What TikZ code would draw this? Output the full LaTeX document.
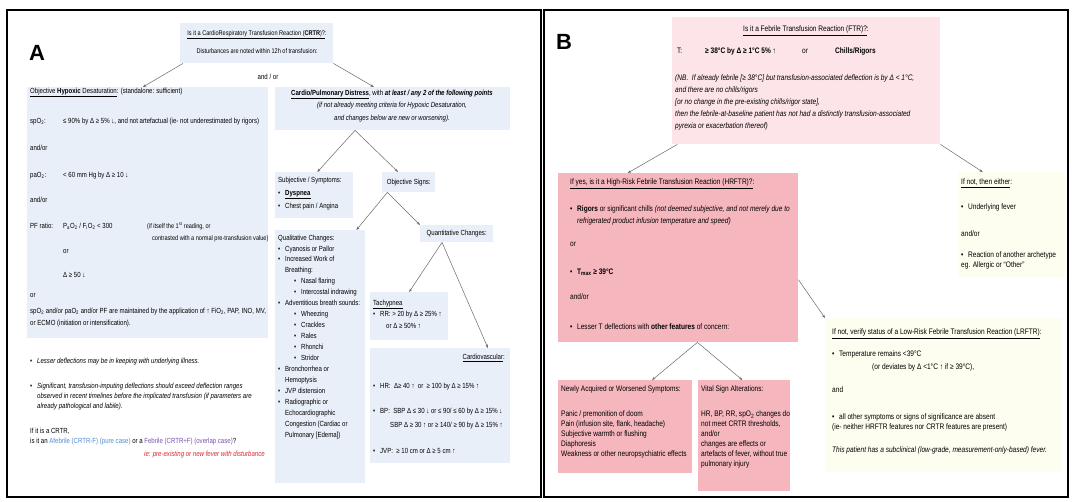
\documentclass[tikz,border=0pt]{standalone}
\usepackage{fontspec}
\setmainfont[FakeStretch=0.82]{Liberation Sans}
\newfontfamily\panelfont{Liberation Sans}
\usetikzlibrary{arrows.meta,calc}

\definecolor{boxblue}{RGB}{233,239,248}
\definecolor{lightpink}{RGB}{252,228,232}
\definecolor{rosepink}{RGB}{245,182,190}
\definecolor{cream}{RGB}{253,253,240}
\definecolor{arrowgray}{RGB}{105,105,105}
\definecolor{afebblue}{RGB}{80,140,210}
\definecolor{febpurple}{RGB}{125,80,175}
\definecolor{notered}{RGB}{220,40,50}

\newcommand{\bl}{\makebox[7pt][l]{\textbullet}}

\begin{document}
\begin{tikzpicture}
  [x=1pt,y=-1pt,every node/.style={inner sep=0pt},
   atxt/.style={font=\fontsize{7.4}{#1}\selectfont},atxt/.default=10,
   btxt/.style={font=\fontsize{8}{#1}\selectfont},btxt/.default=10,
   txt/.style={anchor=north west,align=left},
   panel/.style={font=\panelfont\bfseries\fontsize{22}{22}\selectfont},
   bluebox/.style={fill=boxblue,anchor=north west},
   pinkbox/.style={fill=lightpink,anchor=north west},
   rosebox/.style={fill=rosepink,anchor=north west},
   creambox/.style={fill=cream,anchor=north west},
   conn/.style={draw=arrowgray,line width=0.5pt,-{Stealth[length=3.5pt,width=2.6pt]}}]
  \fill[white] (0,0) rectangle (1072,502);
  \useasboundingbox (0,0) rectangle (1072,502);

  % panel A
  \node[panel] (labA) at (37,53) {A};
  \node[bluebox,minimum width=153pt,minimum height=40pt] (crtr) at (180,23) {};
  \node[font=\fontsize{6.8}{10}\selectfont,anchor=north,align=center] (crtrtxt) at (257,30) {\underline{Is it a CardioRespiratory Transfusion Reaction (\textbf{CRTR})?}:\\[8pt]
    Disturbances are noted within 12h of transfusion:};
  \node[atxt] (andor) at (268,77) {and / or};

  \node[bluebox,minimum width=241pt,minimum height=251pt] (hyp) at (27,87) {};
  \node[txt,atxt=12] (hyptxt) at (30,87.5) {\underline{Objective \textbf{Hypoxic} Desaturation}: (standalone: sufficient)\\[18pt]
    \makebox[33pt][l]{spO\textsubscript{2}:}≤ 90\% by Δ ≥ 5\% ↓, and not artefactual (ie- not underestimated by rigors)\\[15pt]
    and/or\\[15pt]
    \makebox[33pt][l]{paO\textsubscript{2}:}< 60 mm Hg by Δ ≥ 10 ↓\\[13pt]
    and/or\\[14pt]
    \makebox[33pt][l]{PF ratio:}\makebox[84pt][l]{P\textsubscript{a}O\textsubscript{2} / F\textsubscript{i}O\textsubscript{2} < 300}{\fontsize{6.8}{10}\selectfont(if itself the 1\textsuperscript{st} reading, or}\\
    \hspace*{122pt}{\fontsize{6.8}{10}\selectfont contrasted with a normal pre-transfusion value)}\\[1pt]
    \hspace*{33pt}or\\[12pt]
    \hspace*{33pt}Δ ≥ 50 ↓\\[8pt]
    or\\[4pt]
    spO\textsubscript{2} and/or paO\textsubscript{2} and/or PF are maintained by the application of ↑ FiO\textsubscript{2}, PAP, INO, MV,\\
    or ECMO (initiation or intensification).};

  \node[txt,atxt] (notes) at (30,357.5) {\bl\textit{Lesser deflections may be in keeping with underlying illness.}\\[15pt]
    \bl\textit{Significant, transfusion-imputing deflections should exceed deflection ranges}\\
    \hspace*{7pt}\textit{observed in recent timelines before the implicated transfusion (if parameters are}\\
    \hspace*{7pt}\textit{already pathological and labile).}\\[15pt]
    If it is a CRTR,\\
    is it an \textcolor{afebblue}{Afebrile (CRTR-F) (pure case)} or a \textcolor{febpurple}{Febrile (CRTR+F) (overlap case)}?};
  \node[atxt,anchor=base east,text=notered] (ienote) at (265,457) {\textit{ie: pre-existing or new fever with disturbance}};

  \node[bluebox,minimum width=235pt,minimum height=43pt] (cpd) at (275,87) {};
  \node[atxt=12.5,anchor=north,align=center] (cpdtxt) at (392,89.5) {\underline{\textbf{Cardio/Pulmonary Distress}}, with \textbf{\textit{at least / any 2 of the following points}}\\
    \textit{(if not already meeting criteria for Hypoxic Desaturation,}\\
    \textit{and changes below are new or worsening).}};

  \node[bluebox,minimum width=78pt,minimum height=46pt] (subj) at (275,172) {};
  \node[txt,atxt=13] (subjtxt) at (278,176.5) {Subjective / Symptoms:\\
    \bl\underline{\textbf{Dyspnea}}\\
    \bl Chest pain / Angina};
  \node[bluebox,minimum width=53pt,minimum height=20pt] (objs) at (382,172) {};
  \node[atxt] (objstxt) at (objs.center) {Objective Signs:};

  \node[bluebox,minimum width=90pt,minimum height=253pt] (qual) at (275,230) {};
  \node[txt,atxt=10.95] (qualtxt) at (278,234.5) {Qualitative Changes:\\
    \bl Cyanosis or Pallor\\
    \bl Increased Work of\\
    \hspace*{7pt}Breathing:\\
    \hspace*{16pt}\bl Nasal flaring\\
    \hspace*{16pt}\bl Intercostal indrawing\\
    \bl Adventitious breath sounds:\\
    \hspace*{16pt}\bl Wheezing\\
    \hspace*{16pt}\bl Crackles\\
    \hspace*{16pt}\bl Rales\\
    \hspace*{16pt}\bl Rhonchi\\
    \hspace*{16pt}\bl Stridor\\
    \bl Bronchorrhea or\\
    \hspace*{7pt}Hemoptysis\\
    \bl JVP distension\\
    \bl Radiographic or\\
    \hspace*{7pt}Echocardiographic\\
    \hspace*{7pt}Congestion (Cardiac or\\
    \hspace*{7pt}Pulmonary [Edema])};

  \node[bluebox,minimum width=73pt,minimum height=17pt] (quant) at (420,225) {};
  \node[atxt] (quanttxt) at (quant.center) {Quantitative Changes:};

  \node[bluebox,minimum width=78pt,minimum height=48pt] (tachy) at (370,292) {};
  \node[txt,atxt=11.5] (tachytxt) at (373,299.5) {\underline{Tachypnea}\\
    \bl RR: > 20 by Δ ≥ 25\% ↑\\
    \hspace*{13pt}or Δ ≥ 50\% ↑};

  \node[bluebox,minimum width=140pt,minimum height=115pt] (cardio) at (370,348) {};
  \node[atxt,anchor=base east] (cardiohead) at (505,360) {\underline{Cardiovascular}:};
  \node[txt,atxt=14] (cardiotxt) at (373,382.5) {\bl HR: \ Δ≥ 40 ↑ \ or \ ≥ 100 by Δ ≥ 15\% ↑\\[11pt]
    \bl BP: \ SBP Δ ≤ 30 ↓ or ≤ 90/ ≤ 60 by Δ ≥ 15\% ↓\\
    \hspace*{17pt}SBP Δ ≥ 30 ↑ or ≥ 140/ ≥ 90 by Δ ≥ 15\% ↑\\[12pt]
    \bl JVP: \ ≥ 10 cm or Δ ≥ 5 cm ↑};

  \draw[conn] ($(crtr.south west)!0.02!(crtr.south east)$) -- ($(hyp.north west)!0.48!(hyp.north east)$);
  \draw[conn] (crtr.south east) -- ($(cpd.north west)!0.42!(cpd.north east)$);
  \draw[conn] ($(cpd.south west)!0.34!(cpd.south east)$) -- ($(subj.north west)!0.54!(subj.north east)$);
  \draw[conn] ($(cpd.south west)!0.34!(cpd.south east)$) -- ($(objs.north west)!0.3!(objs.north east)$);
  \draw[conn] ($(objs.south west)!0.1!(objs.south east)$) -- ($(qual.north west)!0.9!(qual.north east)$);
  \draw[conn] ($(objs.south west)!0.1!(objs.south east)$) -- (quant.north west);
  \draw[conn] ($(quant.south west)!0.3!(quant.south east)$) -- (tachy.north);
  \draw[conn] ($(quant.south west)!0.3!(quant.south east)$) -- ($(cardio.north west)!0.84!(cardio.north east)$);

  % panel B
  \node[panel] (labB) at (564,42) {B};
  \node[pinkbox,minimum width=268pt,minimum height=127pt] (ftr) at (672,17) {};
  \node[btxt,anchor=base] (ftrhead) at (806,32) {\underline{Is it a Febrile Transfusion Reaction (FTR)?}:};
  \node[btxt,anchor=base west] (ftrT) at (677,54) {\makebox[28pt][l]{T:}\makebox[97pt][l]{\textbf{≥ 38°C by Δ ≥ 1°C 5\% ↑}}\makebox[33pt][l]{or}\textbf{Chills/Rigors}};
  \node[txt,btxt=12] (ftrnb) at (675,75) {\textit{(NB. \ If already febrile [≥ 38°C] but transfusion-associated deflection is by Δ < 1°C,}\\
    \textit{and there are no chills/rigors}\\
    \textit{[or no change in the pre-existing chills/rigor state],}\\
    \textit{then the febrile-at-baseline patient has not had a distinctly transfusion-associated}\\
    \textit{pyrexia or exacerbation thereof)}};

  \node[rosebox,minimum width=240pt,minimum height=169pt] (hrftr) at (558,173) {};
  \node[txt,btxt=12] (hrftrtxt) at (570,179) {\underline{If yes, is it a High-Risk Febrile Transfusion Reaction (HRFTR)?}:\\[15pt]
    \bl\textbf{Rigors} or significant chills \textit{(not deemed subjective, and not merely due to}\\
    \hspace*{7pt}\textit{refrigerated product infusion temperature and speed)}\\[11pt]
    or\\[16pt]
    \bl\textbf{T\textsubscript{max} ≥ 39°C}\\[13pt]
    and/or\\[18pt]
    \bl Lesser T deflections with \textbf{other features} of concern:};

  \node[creambox,minimum width=107pt,minimum height=105pt] (ynot) at (958,172) {};
  \node[txt,btxt] (ynottxt) at (961,179) {\underline{If not, then either}:\\[15pt]
    \bl Underlying fever\\[17pt]
    and/or\\[11pt]
    \bl Reaction of another archetype\\
    eg. Allergic or ``Other''};

  \node[rosebox,minimum width=134pt,minimum height=93pt] (newly) at (558,380) {};
  \node[txt,btxt] (newlytxt) at (561,386) {Newly Acquired or Worsened Symptoms:\\[15pt]
    Panic / premonition of doom\\
    Pain (infusion site, flank, headache)\\
    Subjective warmth or flushing\\
    Diaphoresis\\
    Weakness or other neuropsychiatric effects};

  \node[rosebox,minimum width=92pt,minimum height=111pt] (vital) at (698,380) {};
  \node[txt,btxt] (vitaltxt) at (701,386) {Vital Sign Alterations:\\[15pt]
    HR, BP, RR, spO\textsubscript{2} changes do\\
    not meet CRTR thresholds,\\
    and/or\\
    changes are effects or\\
    artefacts of fever, without true\\
    pulmonary injury};

  \node[creambox,minimum width=237pt,minimum height=154pt] (lrftr) at (825,318) {};
  \node[txt,btxt] (lrftrtxt) at (832,329) {\underline{If not, verify status of a Low-Risk Febrile Transfusion Reaction (LRFTR)}:\\[12pt]
    \bl Temperature remains <39°C\\[3pt]
    \hspace*{40pt}(or deviates by Δ <1°C ↑ if ≥ 39°C),\\[13pt]
    and\\[17pt]
    \bl all other symptoms or signs of significance are absent\\
    (ie- neither HRFTR features nor CRTR features are present)\\[13pt]
    \textit{This patient has a subclinical (low-grade, measurement-only-based) fever.}};

  \draw[conn] ($(ftr.south west)!0.02!(ftr.south east)$) -- ($(hrftr.north west)!0.29!(hrftr.north east)$);
  \draw[conn] (ftr.south east) -- ($(ynot.north west)!0.23!(ynot.north east)$);
  \draw[conn] ($(hrftr.north east)!0.63!(hrftr.south east)$) -- (lrftr.north west);
  \draw[conn] ($(hrftr.south west)!0.58!(hrftr.south east)$) -- ($(newly.north west)!0.7!(newly.north east)$);
  \draw[conn] ($(hrftr.south west)!0.58!(hrftr.south east)$) -- ($(vital.north west)!0.48!(vital.north east)$);

  % frames
  \draw[line width=1.5pt] (7,10) rectangle (541,497);
  \draw[line width=1.5pt] (544,10) rectangle (1068,497);
\end{tikzpicture}
\end{document}
